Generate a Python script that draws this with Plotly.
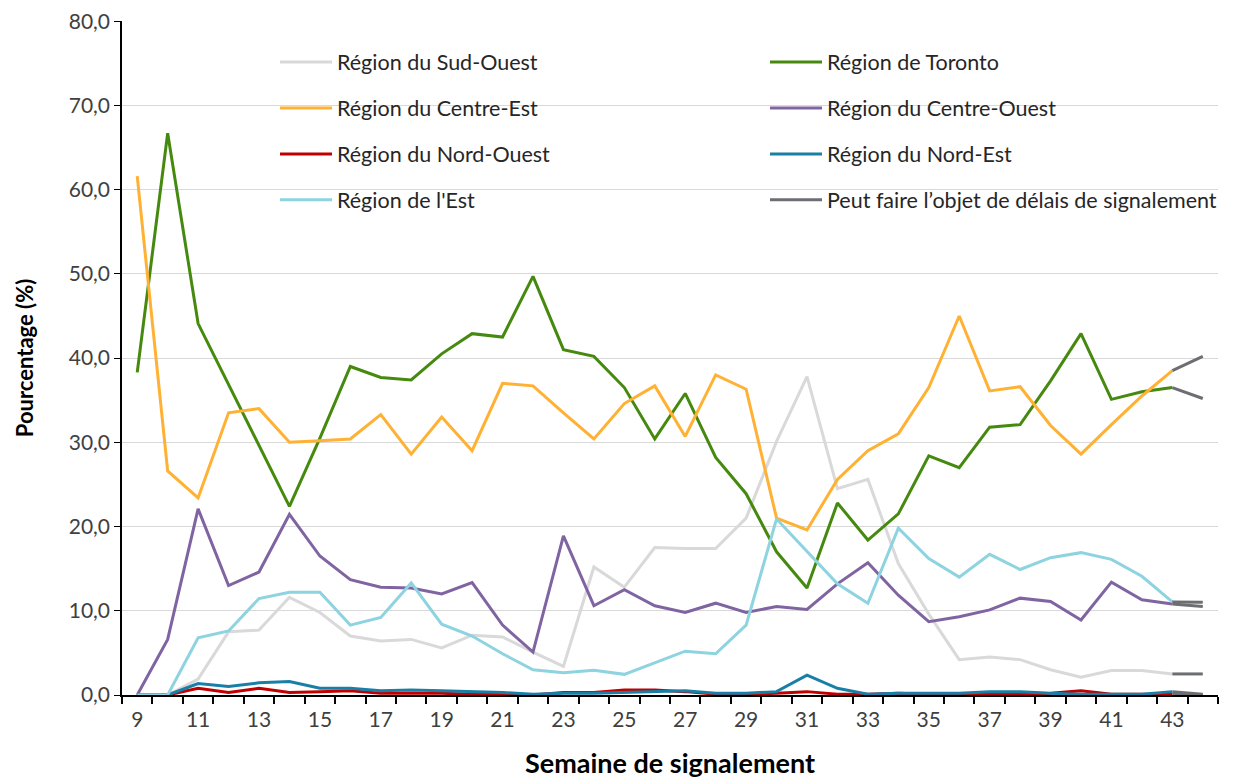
import plotly.graph_objects as go

semaines = list(range(9, 44))
semaine_fin = [43, 44]

sud_ouest = [0, 0, 1.9, 7.5, 7.7, 11.6, 9.8, 7.0, 6.4, 6.6, 5.6, 7.1, 6.9, 5.1, 3.4, 15.2, 12.8, 17.5, 17.4, 17.4,
             21.0, 30.1, 37.8, 24.5, 25.6, 15.6, 9.6, 4.2, 4.5, 4.2, 3.0, 2.1, 2.9, 2.9, 2.5]
toronto = [38.3, 66.7, 44.1, 36.9, 29.7, 22.4, 30.5, 39.0, 37.7, 37.4, 40.5, 42.9, 42.5, 49.7, 41.0, 40.2, 36.5,
           30.4, 35.8, 28.2, 23.9, 17.0, 12.7, 22.8, 18.4, 21.5, 28.4, 27.0, 31.8, 32.1, 37.3, 42.9, 35.1, 36.0, 36.5]
centre_est = [61.6, 26.6, 23.4, 33.5, 34.0, 30.0, 30.2, 30.4, 33.3, 28.6, 33.0, 29.0, 37.0, 36.7, 33.5, 30.4, 34.6,
              36.7, 30.7, 38.0, 36.3, 21.0, 19.6, 25.6, 29.0, 31.0, 36.5, 45.0, 36.1, 36.6, 32.0, 28.6, 32.1, 35.5, 38.5]
centre_ouest = [0, 6.6, 22.1, 13.0, 14.6, 21.45, 16.5, 13.7, 12.8, 12.7, 12.0, 13.35, 8.3, 5.1, 18.9, 10.6, 12.5,
                10.6, 9.8, 10.9, 9.8, 10.5, 10.15, 13.2, 15.7, 11.85, 8.7, 9.3, 10.1, 11.5, 11.1, 8.9, 13.4, 11.3, 10.8]
nord_ouest = [0, 0, 0.8, 0.3, 0.8, 0.3, 0.4, 0.5, 0.2, 0.2, 0.2, 0.1, 0.1, 0.0, 0.3, 0.3, 0.6, 0.6, 0.4, 0.1,
              0.1, 0.2, 0.4, 0.1, 0.1, 0.2, 0.1, 0.1, 0.1, 0.1, 0.2, 0.5, 0.1, 0.1, 0.1]
nord_est = [0, 0, 1.35, 1.0, 1.45, 1.6, 0.8, 0.8, 0.5, 0.6, 0.5, 0.4, 0.3, 0.1, 0.2, 0.2, 0.3, 0.4, 0.5, 0.2,
            0.2, 0.4, 2.35, 0.8, 0.1, 0.2, 0.2, 0.2, 0.4, 0.4, 0.2, 0.1, 0.1, 0.1, 0.4]
est = [0, 0, 6.8, 7.6, 11.45, 12.2, 12.2, 8.3, 9.2, 13.3, 8.4, 7.0, 4.9, 3.0, 2.65, 2.95, 2.45, 3.8, 5.2, 4.9,
       8.3, 20.9, 17.0, 13.2, 10.9, 19.8, 16.2, 14.0, 16.7, 14.9, 16.3, 16.9, 16.1, 14.1, 11.05]

# Week 44 values (subject to reporting delays)
semaine44 = {
    "sud_ouest": 2.5, "toronto": 35.2, "centre_est": 40.2, "centre_ouest": 10.5,
    "nord_ouest": 0.0, "nord_est": 0.1, "est": 11.0,
}

y_ticks = [0, 10, 20, 30, 40, 50, 60, 70, 80]
y_ticktext = ["0,0", "10,0", "20,0", "30,0", "40,0", "50,0", "60,0", "70,0", "80,0"]
x_ticks = list(range(9, 45, 2))

series = [
    ("Région du Sud-Ouest", sud_ouest, "sud_ouest", "#D9D9D9", "legend"),
    ("Région de Toronto", toronto, "toronto", "#46890F", "legend2"),
    ("Région du Centre-Est", centre_est, "centre_est", "#FFB133", "legend"),
    ("Région du Centre-Ouest", centre_ouest, "centre_ouest", "#8064A2", "legend2"),
    ("Région du Nord-Ouest", nord_ouest, "nord_ouest", "#C00000", "legend"),
    ("Région du Nord-Est", nord_est, "nord_est", "#1A7FA6", "legend2"),
    ("Région de l'Est", est, "est", "#8DD3E0", "legend"),
]

FONT = "Lato, 'Liberation Sans', sans-serif"
fig = go.Figure()
for name, vals, key, color, leg in series:
    fig.add_trace(go.Scatter(
        x=semaines, y=vals, mode="lines", name=name, legend=leg, legendgroup=key,
        line=dict(color=color, width=3),
    ))

# delayed segments 43 -> 44
dx, dy = [], []
for name, vals, key, color, leg in series:
    dx += semaine_fin + [None]
    dy += [vals[-1], semaine44[key], None]
fig.add_trace(go.Scatter(
    x=dx, y=dy, mode="lines", name="Peut faire l’objet de délais de signalement",
    legend="legend2", legendgroup="delai", line=dict(color="#6D6E71", width=3),
))

# white panel behind legend (hides gridlines)
fig.add_shape(type="rect", xref="paper", yref="paper", x0=0.128, x1=1.0, y0=0.70, y1=0.99,
              fillcolor="white", line=dict(width=0), layer="between")

# page body has an 8px offset; plot area in screen px: 122..1218 x 20..695
OFF = 8
L, R, T, B = 122, 1218, 21, 695
def px_x(p):
    return (p - L) / (R - L)
def px_y(p):
    return (B - p) / (B - T)

legend_common = dict(
    font=dict(family=FONT, size=21.5, color="#262626"),
    bgcolor="rgba(0,0,0,0)", tracegroupgap=15, itemwidth=52,
    xref="paper", yref="paper", xanchor="left", yanchor="top",
)
fig.update_layout(
    width=1233, height=778,
    margin=dict(l=L - OFF, r=1233 - R + OFF, t=T - OFF, b=778 - B + OFF, autoexpand=False),
    paper_bgcolor="white", plot_bgcolor="white",
    font=dict(family=FONT, size=20, color="#404040"),
    showlegend=True,
    legend=dict(x=px_x(275), y=px_y(41.5), **legend_common),
    legend2=dict(x=px_x(765), y=px_y(41.5), **legend_common),
    xaxis=dict(
        range=[8.5, 44.5], tickmode="array", tickvals=x_ticks, ticks="", showgrid=False,
        showline=True, linecolor="#000000", linewidth=1.5, zeroline=False,
        tickfont=dict(family=FONT, size=21, color="#404040"), ticklabelstandoff=5,
        ticklabeloverflow="allow",
        minor=dict(tickmode="array", tickvals=[w + 0.5 for w in range(8, 45)], ticks="outside",
                   ticklen=7, tickcolor="#000000", tickwidth=1.5, showgrid=False),
        title=dict(text="<b>Semaine de signalement</b>", font=dict(family=FONT, size=27, color="#000000"),
                   standoff=24),
    ),
    yaxis=dict(
        range=[0, 80.02], tickmode="array", tickvals=y_ticks, ticktext=y_ticktext,
        showgrid=True, gridcolor="#D9D9D9", gridwidth=1, zeroline=False,
        showline=True, linecolor="#000000", linewidth=1.5, ticks="outside", ticklen=6,
        tickcolor="#000000", ticklabeloverflow="allow",
        tickfont=dict(family=FONT, size=21, color="#404040"),
        title=dict(text="<b>Pourcentage (%)</b>", font=dict(family=FONT, size=22, color="#000000"),
                   standoff=29),
    ),
)

fig.write_html("out.html")
